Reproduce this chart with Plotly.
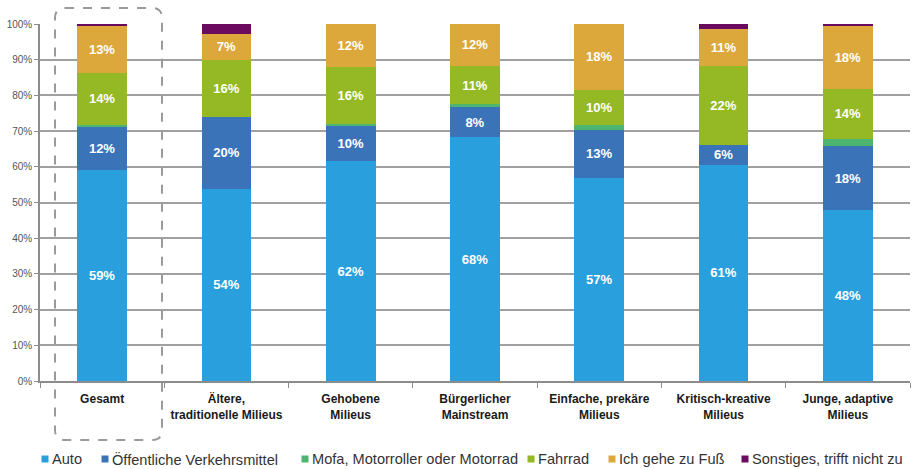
import plotly.graph_objects as go

categories = [
    "Gesamt",
    "Ältere,<br>traditionelle Milieus",
    "Gehobene<br>Milieus",
    "Bürgerlicher<br>Mainstream",
    "Einfache, prekäre<br>Milieus",
    "Kritisch-kreative<br>Milieus",
    "Junge, adaptive<br>Milieus",
]

series_names = [
    "Auto",
    "Öffentliche Verkehrsmittel",
    "Mofa, Motorroller oder Motorrad",
    "Fahrrad",
    "Ich gehe zu Fuß",
    "Sonstiges, trifft nicht zu",
]

auto = [59.0, 53.9, 61.6, 68.3, 57.0, 60.6, 47.9]
oev = [12.4, 20.1, 10.1, 8.4, 13.4, 5.6, 17.9]
mofa = [0.4, 0.0, 0.2, 0.8, 1.4, 0.0, 2.0]
fahrrad = [14.4, 15.9, 16.1, 10.8, 9.8, 21.9, 14.0]
fuss = [13.3, 7.4, 12.0, 11.7, 18.4, 10.6, 17.7]
sonstiges = [0.5, 2.7, 0.0, 0.0, 0.0, 1.3, 0.5]

series_values = [auto, oev, mofa, fahrrad, fuss, sonstiges]
colors = ["#29A0DD", "#3B73B9", "#4DB56F", "#95B924", "#DCA83B", "#6B0A5F"]
labelled = [True, True, False, True, True, False]

FONT = "Arial, Liberation Sans, sans-serif"

W, H = 912, 469
ML, MR, MT, MB = 40, 2, 24, 88
PW, PH = W - ML - MR, H - MT - MB


def px_x(px):
    return (px - ML) / PW


def px_y(py):
    return (H - MB - py) / PH


fig = go.Figure()

for name, vals, col, lab in zip(series_names, series_values, colors, labelled):
    fig.add_trace(go.Bar(
        x=categories,
        y=vals,
        name=name,
        marker=dict(color=col, line=dict(width=0)),
        texttemplate="%{y:.0f}%" if lab else None,
        textposition="inside" if lab else "none",
        insidetextanchor="middle",
        constraintext="none",
        textfont=dict(family=FONT, size=13, color="white", weight="bold"),
        showlegend=False,
        hoverinfo="skip",
    ))

# legend row along the bottom: swatch + label per series
legend_swatch_px = [45, 105, 305, 531, 612, 745]
for name, col, sx in zip(series_names, colors, legend_swatch_px):
    fig.add_shape(type="rect", xref="paper", yref="paper",
                  x0=px_x(sx - 3.5), x1=px_x(sx + 3.5),
                  y0=px_y(459 + 3.5), y1=px_y(459 - 3.5),
                  fillcolor=col, line=dict(width=0))
    fig.add_annotation(text=name, xref="paper", yref="paper",
                       x=px_x(sx + 5), y=px_y(459), xanchor="left",
                       yanchor="middle", showarrow=False,
                       font=dict(family=FONT, size=14.6, color="#333333"))

# dashed rounded frame around the "Gesamt" column
x0, x1 = px_x(55), px_x(162)
y0, y1 = px_y(440), px_y(8)
rx, ry = 10 / PW, 10 / PH
path = (
    f"M {x0 + rx},{y1} L {x1 - rx},{y1} Q {x1},{y1} {x1},{y1 - ry} "
    f"L {x1},{y0 + ry} Q {x1},{y0} {x1 - rx},{y0} "
    f"L {x0 + rx},{y0} Q {x0},{y0} {x0},{y0 + ry} "
    f"L {x0},{y1 - ry} Q {x0},{y1} {x0 + rx},{y1} Z"
)
fig.add_shape(type="path", path=path, xref="paper", yref="paper",
              line=dict(color="#9A9A9A", width=2, dash="dash"),
              fillcolor="rgba(0,0,0,0)", layer="above")

fig.update_layout(
    barmode="stack",
    bargap=0.6,
    width=W,
    height=H,
    margin=dict(l=ML, r=MR, t=MT, b=MB),
    paper_bgcolor="white",
    plot_bgcolor="white",
    font=dict(family=FONT, color="#333333"),
    showlegend=False,
    xaxis=dict(
        type="category",
        showline=True,
        linecolor="#8C8C8C",
        linewidth=1.5,
        ticks="outside",
        tickson="boundaries",
        ticklen=5,
        tickcolor="#8C8C8C",
        ticklabelstandoff=6,
        tickfont=dict(family=FONT, size=12, color="#1A1A1A", weight="bold"),
        showgrid=False,
    ),
    yaxis=dict(
        range=[0, 100],
        dtick=10,
        ticksuffix="%",
        showline=True,
        linecolor="#8C8C8C",
        linewidth=1.5,
        ticks="outside",
        ticklen=4,
        tickcolor="#8C8C8C",
        tickfont=dict(family=FONT, size=10, color="#555555"),
        showgrid=True,
        gridcolor="#A0A0A0",
        gridwidth=1.5,
        zeroline=False,
    ),
)

fig.write_html("out.html")
